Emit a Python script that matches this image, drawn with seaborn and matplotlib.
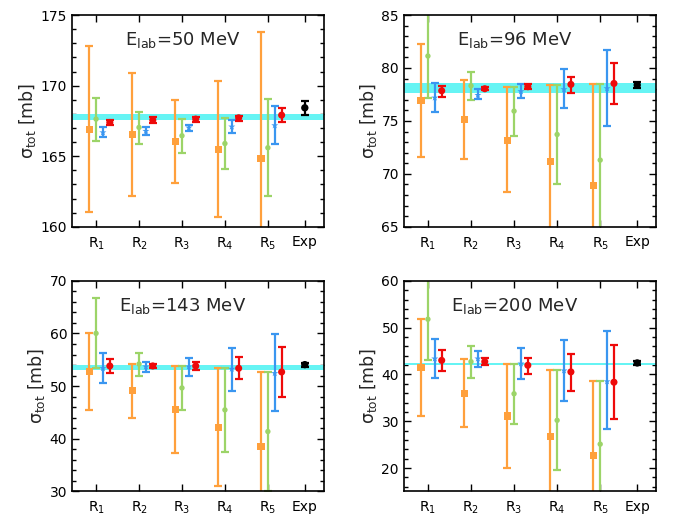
import numpy as np
import matplotlib
matplotlib.use("Agg")
import matplotlib.pyplot as plt
import seaborn as sns

# ---------------- data ----------------
energies = [50, 96, 143, 200]
categories = ["R$_1$", "R$_2$", "R$_3$", "R$_4$", "R$_5$", "Exp"]

# orange (squares)
orange_c = [[166.9, 166.52, 166.02, 165.5, 164.82],
            [76.9, 75.14, 73.19, 71.2, 68.94],
            [52.75, 49.09, 45.49, 42.2, 38.54],
            [41.39, 35.94, 31.13, 26.81, 22.63]]
orange_lo = [[161.06, 162.17, 163.07, 160.66, 155.87],
             [71.61, 71.36, 68.24, 64.0, 59.4],
             [45.49, 44.04, 37.4, 30.95, 24.4],
             [31.13, 28.72, 20.0, 12.7, 6.5]]
orange_hi = [[172.8, 170.91, 168.98, 170.35, 173.77],
             [82.26, 78.86, 78.23, 78.39, 78.45],
             [60.15, 54.2, 53.83, 53.39, 52.63],
             [51.86, 43.3, 42.3, 40.89, 38.7]]

# green (small circles)
green_c = [[167.63, 167.04, 166.45, 165.9, 165.6],
           [81.13, 78.32, 75.93, 73.72, 71.3],
           [60.02, 54.2, 49.66, 45.49, 41.38],
           [51.79, 42.73, 35.87, 30.2, 25.11]]
green_lo = [[166.1, 165.9, 165.2, 164.1, 162.17],
            [77.19, 76.97, 73.6, 69.06, 64.15],
            [53.39, 51.93, 45.49, 37.59, 30.1],
            [43.0, 39.26, 29.43, 19.59, 11.5]]
green_hi = [[169.14, 168.15, 167.63, 167.72, 169.05],
            [85.07, 79.65, 78.23, 78.39, 78.45],
            [66.65, 56.36, 53.83, 53.39, 52.63],
            [60.6, 46.13, 42.3, 40.89, 38.7]]

# blue (stars)
blue_c = [[166.68, 166.78, 167.02, 167.09, 167.18],
          [77.19, 77.44, 77.79, 77.98, 78.07],
          [53.39, 53.7, 53.7, 53.26, 52.44],
          [43.37, 43.37, 42.3, 40.82, 38.49]]
blue_lo = [[166.33, 166.52, 166.78, 166.66, 165.88],
           [75.83, 77.03, 77.13, 76.18, 74.51],
           [50.54, 52.69, 51.93, 49.15, 45.3],
           [39.2, 41.53, 39.05, 34.3, 28.3]]
blue_hi = [[167.09, 167.09, 167.23, 167.56, 168.55],
           [78.6, 78.0, 78.45, 79.87, 81.69],
           [56.36, 54.58, 55.4, 57.3, 59.9],
           [47.6, 45.0, 45.63, 47.4, 49.17]]

# red (circles)
red_c = [[167.39, 167.56, 167.63, 167.72, 167.91],
         [77.85, 78.04, 78.23, 78.45, 78.54],
         [53.83, 53.83, 53.83, 53.39, 52.69],
         [43.0, 42.73, 41.95, 40.54, 38.34]]
red_lo = [[167.2, 167.32, 167.44, 167.51, 167.39],
          [77.28, 77.88, 77.98, 77.66, 76.59],
          [52.44, 53.45, 53.07, 51.3, 48.0],
          [40.75, 41.95, 40.18, 36.43, 30.42]]
red_hi = [[167.6, 167.75, 167.8, 167.87, 168.43],
          [78.3, 78.17, 78.45, 79.17, 80.43],
          [55.09, 54.2, 54.52, 55.47, 57.36],
          [45.14, 43.58, 43.5, 44.43, 46.34]]

# experiment
exp_c = [168.43, 78.39, 54.08, 42.45]
exp_lo = [167.91, 78.07, 53.7, 42.02]
exp_hi = [168.93, 78.7, 54.46, 42.94]

# cyan band
band_lo = [167.56, 77.6, 53.07, 42.02]
band_hi = [167.96, 78.54, 54.02, 42.45]

ylims = [(160, 175), (65, 85), (30, 70), (15, 60)]
ymajor = [5, 5, 10, 10]
yminor = [1, 1, 2, 2]

# ---------------- style ----------------
sns.set_style("ticks", {"xtick.direction": "in", "ytick.direction": "in",
                        "axes.edgecolor": "black"})
plt.rcParams["font.family"] = ["DejaVu Sans"]
plt.rcParams["mathtext.default"] = "regular"

C_OR = "#FFA03C"
C_GR = "#9CD468"
C_BL = "#3A96F0"
C_RD = "#EE0A0A"
C_CY = "#66F4F4"

fig = plt.figure(figsize=(6.73, 5.19), dpi=100)
positions = [
    [0.107, 0.563, 0.374, 0.408],
    [0.600, 0.563, 0.375, 0.408],
    [0.107, 0.053, 0.374, 0.406],
    [0.600, 0.053, 0.375, 0.406],
]

xr = np.array([1, 2, 3, 4, 5], dtype=float)
x_exp = 5.86
series = [
    (orange_c, orange_lo, orange_hi, C_OR, "s", 26, -0.16, 1.6),
    (green_c, green_lo, green_hi, C_GR, "o", 15, 0.0, 1.6),
    (blue_c, blue_lo, blue_hi, C_BL, "*", 28, 0.16, 1.6),
    (red_c, red_lo, red_hi, C_RD, "o", 26, 0.32, 1.6),
]

for k, E in enumerate(energies):
    ax = fig.add_axes(positions[k])
    ax.axhspan(band_lo[k], band_hi[k], color=C_CY, lw=0, zorder=1)
    for (c, lo, hi, col, mk, ms, dx, lw) in series:
        cc = np.array(c[k]); l = np.array(lo[k]); h = np.array(hi[k])
        xs = xr + dx
        ax.errorbar(xs, cc, yerr=[cc - l, h - cc], fmt="none", ecolor=col,
                    elinewidth=lw, capsize=3.2, capthick=lw, zorder=2)
        sns.scatterplot(x=xs, y=cc, marker=mk, s=ms, color=col,
                        edgecolor="none", linewidth=0, ax=ax, zorder=3)
    ec = exp_c[k]
    ax.errorbar([x_exp], [ec], yerr=[[ec - exp_lo[k]], [exp_hi[k] - ec]],
                fmt="none", ecolor="black", elinewidth=1.6, capsize=3.2,
                capthick=1.6, zorder=2)
    sns.scatterplot(x=[x_exp], y=[ec], marker="o", s=28, color="black",
                    edgecolor="none", ax=ax, zorder=3)

    ax.set_xlim(0.44, 6.3)
    ax.set_ylim(*ylims[k])
    ax.set_xticks(list(xr) + [x_exp])
    ax.set_xticklabels(categories, fontsize=10)
    ax.yaxis.set_major_locator(matplotlib.ticker.MultipleLocator(ymajor[k]))
    ax.yaxis.set_minor_locator(matplotlib.ticker.MultipleLocator(yminor[k]))
    ax.tick_params(axis="both", which="both", direction="in",
                   top=True, right=True, labelsize=10, colors="black")
    ax.tick_params(axis="both", which="major", length=5, width=1)
    ax.tick_params(axis="y", which="minor", length=3, width=1)
    ax.tick_params(axis="x", which="major", pad=6)
    for sp in ax.spines.values():
        sp.set_linewidth(1.2)
        sp.set_color("black")
    ax.set_ylabel(r"$\sigma_{tot}$ [mb]", fontsize=12.5, labelpad=2)
    ax.text(0.44, 0.88, r"E$_{lab}$=%d MeV" % E, transform=ax.transAxes,
            ha="center", va="center", fontsize=13)

fig.savefig("out.png", dpi=100)
